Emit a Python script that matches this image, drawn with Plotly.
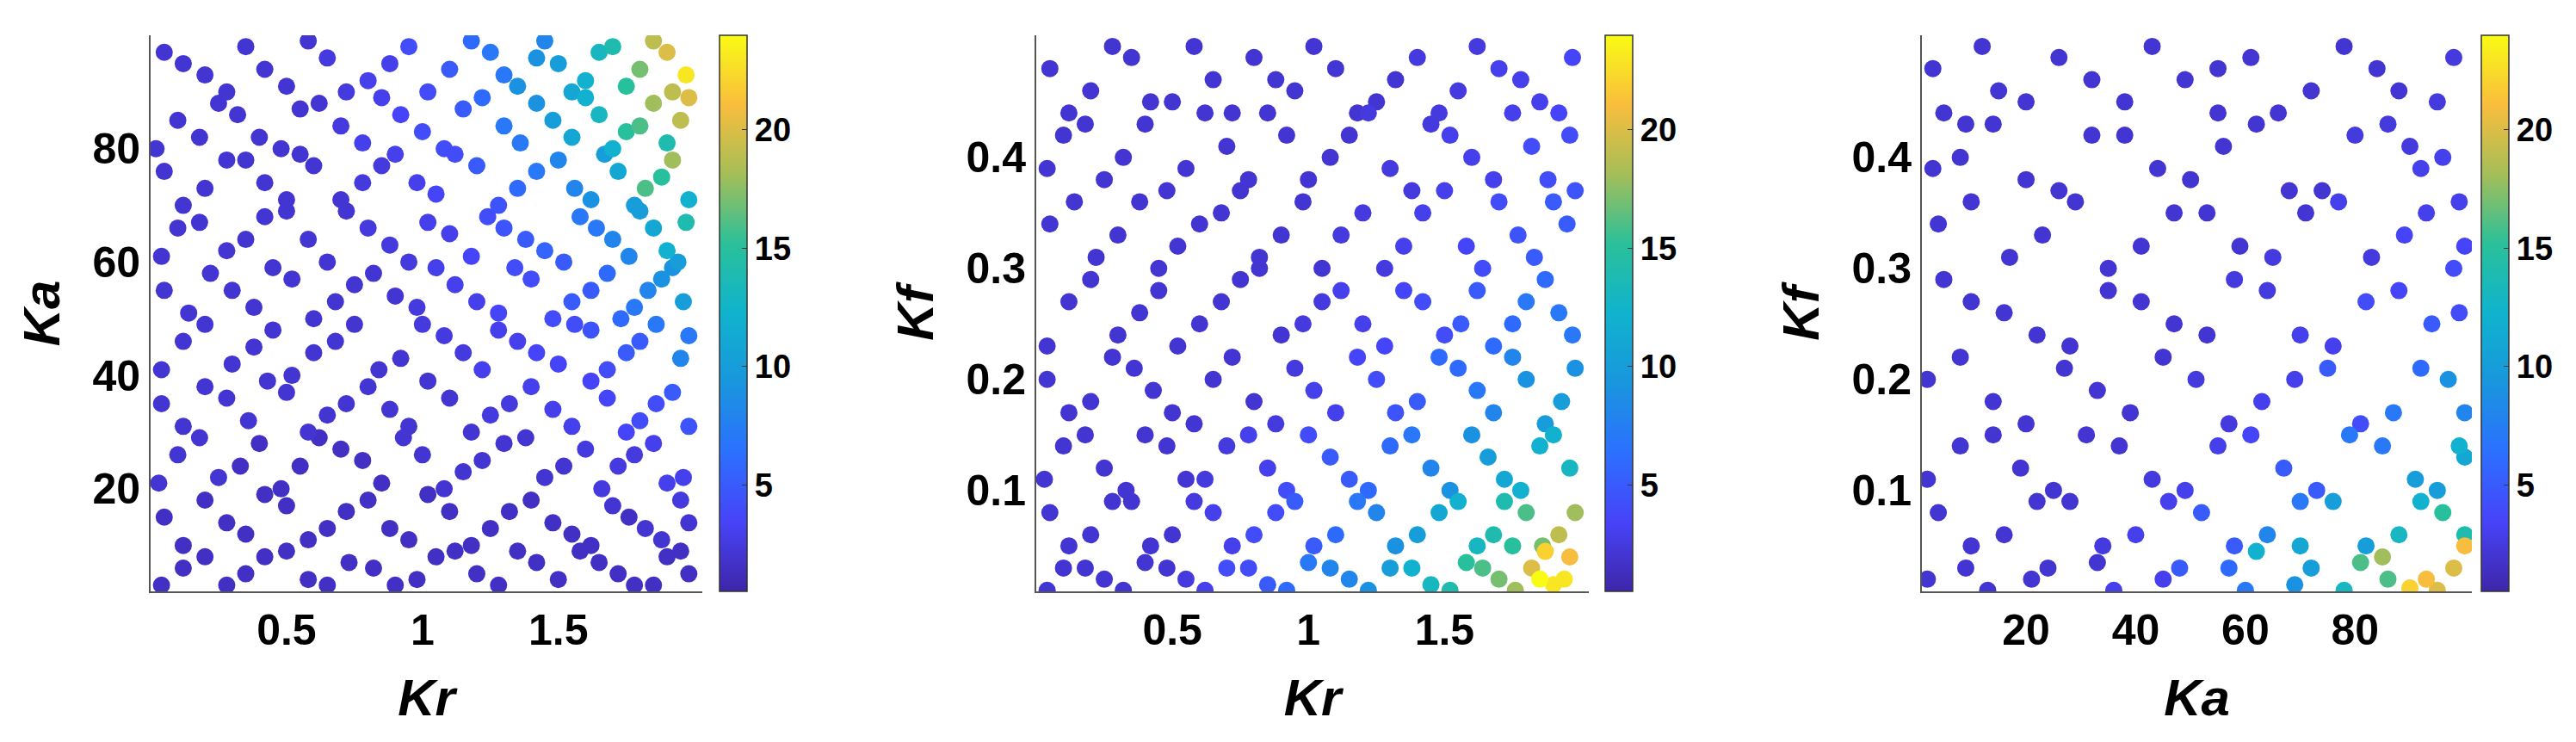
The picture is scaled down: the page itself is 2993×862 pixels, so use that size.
import plotly.graph_objects as go

# Panel 1: Kr vs Ka
kr1 = [0.05,0.2,0.35,0.5,0.65,0.8,0.95,1.1,1.25,1.35,1.5,1.6,1.7,1.8,1.9,1.97,1.45,1.85,
       0.1,0.25,0.4,0.55,0.7,0.85,1.0,1.15,1.3,1.42,1.55,1.65,1.75,1.85,1.95,1.9,
       0.05,0.2,0.35,0.5,0.6,0.78,0.9,1.05,1.2,1.35,1.5,1.62,1.72,1.82,1.92,1.98,
       0.1,0.28,0.42,0.58,0.72,0.88,1.02,1.18,1.3,1.45,1.58,1.7,1.8,1.9,1.97,
       0.05,0.22,0.38,0.52,0.68,0.82,0.98,1.12,1.28,1.4,1.55,1.68,1.78,1.88,1.96,
       0.12,0.3,0.45,0.6,0.75,0.92,1.08,1.22,1.35,1.5,1.62,1.75,1.86,1.95,
       0.04,0.2,0.36,0.5,0.65,0.8,0.95,1.1,1.25,1.4,1.55,1.68,1.8,1.92,
       0.1,0.25,0.4,0.55,0.7,0.85,1.0,1.15,1.3,1.45,1.6,1.72,1.85,1.96,
       0.05,0.2,0.35,0.5,0.65,0.8,0.95,1.1,1.25,1.4,1.55,1.7,1.82,1.95,
       0.12,0.28,0.42,0.58,0.73,0.9,1.05,1.2,1.35,1.5,1.65,1.78,1.9,1.98]
ka1 = [97,93,98,91,96,92,98,94,97,91,95,92,98,94,97,93,99,99,
       85,88,82,87,84,89,83,87,84,88,82,86,83,88,85,81,
       76,73,78,71,77,74,79,72,77,73,78,71,76,73,78,71,
       66,62,68,64,69,63,67,61,66,62,68,64,69,62,67,
       55,58,52,57,53,58,52,56,51,57,53,58,52,57,53,
       46,42,48,44,49,43,47,41,46,42,48,44,49,43,
       35,38,32,37,33,38,31,36,33,38,31,36,32,37,
       26,22,28,24,27,21,26,23,28,22,27,24,28,22,
       15,18,12,17,13,18,11,16,13,18,12,17,13,18,
       6,3,8,4,7,3,8,5,9,4,7,3,8,5]
z1 = [2,2,2,2,2.5,3,4,5,7,9,10,12,14,17,20,23,8,19,
      2,2,2,2,2.5,3,4,5,7,9,11,13,15,18,19,14,
      2,2,2,2,2,2.5,3,3.5,5,6,8,9,11,16,18,12,
      2,2,2,2,2,2.5,3,3.5,4.5,5.5,7,8,10,12,14,
      2,2,2,2,2,2,2.5,3,3.5,4,5,6,7,9,10,
      2,2,2,2,2,2,2.5,3,3,3.5,4.5,5,7,8,
      2,2,2,2,2,2,2,2,2.5,3,3,3.5,4,5,
      2,2,1.5,1.5,1.5,1.5,2,2,2,2,2.5,2.5,3,3,
      1.5,1.5,1.5,1.5,1.5,1.5,1.5,1.5,1.5,1.5,1.5,2,2,2.5,
      1.5,1.5,1.5,1.5,1.5,1.5,1.5,1.5,1.5,1.5,1.5,1.5,1.5,1.5]
kr1b = [0.12,0.28,0.42,0.58,0.72,0.88,1.02,1.18,1.3,1.42,1.55,1.65,1.75,1.92,
        0.02,0.18,0.32,0.48,0.62,0.78,0.92,1.08,1.22,1.36,1.48,1.6,1.7,1.8,1.98,
        0.12,0.28,0.42,0.55,0.7,0.85,0.98,1.12,1.28,1.42,1.56,1.67,1.78,1.88,
        0.04,0.18,0.35,0.5,0.65,0.8,0.95,1.1,1.24,1.38,1.52,1.64,1.76,1.85,1.94,
        0.14,0.3,0.45,0.6,0.75,0.9,1.05,1.2,1.34,1.48,1.62,1.73,1.83,1.92,
        0.04,0.2,0.38,0.52,0.68,0.84,1.0,1.15,1.28,1.42,1.56,1.68,1.8,1.98,
        0.12,0.28,0.43,0.58,0.72,0.88,1.02,1.18,1.32,1.48,1.62,1.75,1.86,1.98,
        0.03,0.18,0.33,0.48,0.62,0.78,0.93,1.08,1.22,1.38,1.52,1.66,1.78,1.9,
        0.12,0.28,0.42,0.58,0.72,0.88,1.02,1.18,1.32,1.48,1.62,1.76,1.88,1.98,
        0.04,0.2,0.35,0.5,0.65,0.82,0.98,1.12,1.28,1.42,1.58,1.72,1.85,1.95]
ka1b = [95,90,94,99,90,95,90,99,93,96,90,97,91,90,
        80,82,86,80,88,81,86,80,89,81,85,89,80,84,89,
        70,78,74,79,71,77,74,79,70,76,73,79,70,75,
        61,67,64,69,60,66,60,65,68,64,60,66,61,66,60,
        51,55,59,50,56,54,59,53,59,50,55,50,55,59,
        41,49,45,40,46,41,49,44,48,44,49,41,46,47,
        31,36,39,30,35,34,39,30,35,34,39,30,35,31,
        21,29,24,20,29,25,29,20,25,29,24,20,26,21,
        10,14,19,11,16,13,19,10,16,14,10,15,11,14,
        3,8,5,9,3,6,4,9,3,7,9,5,3,9]
z1b = [2,2,2,2,2.5,3,4,6,7,9,11,13,15,19,
       2,2,2,2,2,3,3.5,4,6,7,10,12,12,16,20,
       2,2,2,2,2,2.5,3,4,4.5,7,8,10,10,15,
       2,2,2,2,2,2.5,2.5,3,4,5,5,7,8,11,10,
       2,2,2,2,2,2,3,3,4,4,5,6,8,9,
       2,2,2,2,2,2,2.5,2.5,3,3.5,4,4,5,7,
       2,2,2,2,2,2,2,2,2.5,3,3.5,3.5,4,4.5,
       2,2,1.5,1.5,1.5,1.5,2,2,2,2,2,2.5,2.5,3,
       1.5,1.5,1.5,1.5,1.5,1.5,1.5,1.5,1.5,1.5,1.5,1.5,2,2,
       1.5,1.5,1.5,1.5,1.5,1.5,1.5,1.5,1.5,1.5,1.5,1.5,1.5,1.5]

# Panel 2: Kr vs Kf
kr2 = [0.05,0.2,0.35,0.5,0.65,0.8,0.95,1.1,1.25,1.4,1.55,1.7,1.85,1.97,
       0.1,0.25,0.4,0.55,0.7,0.85,1.0,1.15,1.3,1.45,1.6,1.75,1.88,1.96,
       0.05,0.22,0.38,0.52,0.68,0.82,0.98,1.12,1.28,1.42,1.58,1.7,1.83,1.95,
       0.12,0.3,0.45,0.6,0.75,0.9,1.05,1.2,1.35,1.5,1.62,1.75,1.87,1.97,
       0.04,0.2,0.36,0.5,0.65,0.8,0.95,1.1,1.25,1.4,1.55,1.68,1.8,1.93,
       0.1,0.25,0.4,0.55,0.7,0.85,1.0,1.15,1.3,1.45,1.6,1.72,1.85,1.96,
       0.05,0.2,0.35,0.5,0.65,0.8,0.95,1.1,1.25,1.4,1.55,1.68,1.8,1.92,1.75,
       0.1,0.25,0.4,0.55,0.7,0.85,1.0,1.15,1.3,1.45,1.58,1.7,1.82,1.9,1.96,1.87]
kf2 = [.48,.46,.49,.45,.47,.49,.46,.48,.45,.49,.46,.48,.45,.49,
       .42,.38,.43,.39,.41,.44,.38,.42,.39,.43,.40,.44,.38,.42,
       .34,.31,.36,.32,.35,.31,.36,.33,.30,.35,.32,.36,.31,.34,
       .27,.24,.28,.25,.29,.24,.27,.25,.28,.24,.28,.25,.29,.24,
       .20,.18,.21,.17,.20,.18,.21,.17,.20,.18,.21,.17,.20,.18,
       .14,.12,.15,.11,.14,.12,.15,.11,.14,.12,.15,.11,.14,.12,
       .08,.06,.09,.06,.08,.06,.09,.06,.08,.06,.09,.06,.08,.06,.05,
       .03,.02,.035,.02,.03,.015,.035,.02,.03,.015,.035,.02,.03,.015,.04,.045]
z2 = [2,2,2,2,2,2,2,2,2,2.5,2.5,3,3,3.5,
      2,2,2,2,2,2,2,2,2.5,2.5,3,3,4,4,
      2,2,2,2,2,2,2,2.5,2.5,3,3.5,4,5,5,
      2,2,2,2,2,2,2.5,3,3.5,4,5,6,6,7,
      2,2,2,2,2,2,2.5,3,4,5,6,8,9,10,
      2,2,2,2,2.5,3,4,5,6,8,9,11,12,13,
      2,2,2,2,3,4,5,6,8,10,12,14,16,19,15,
      2,2,2,2.5,4,5,7,8,10,13,15,17,20,23,21,22]
kr2b = [0.12,0.28,0.42,0.58,0.72,0.88,1.02,1.18,1.32,1.48,1.62,1.78,1.92,
        0.04,0.18,0.32,0.48,0.62,0.78,0.92,1.08,1.22,1.38,1.52,1.68,1.82,1.98,
        0.14,0.3,0.45,0.6,0.75,0.9,1.05,1.2,1.35,1.5,1.64,1.77,1.9,
        0.04,0.2,0.38,0.52,0.68,0.82,0.98,1.12,1.28,1.42,1.56,1.68,1.8,1.92,
        0.12,0.28,0.43,0.58,0.72,0.88,1.02,1.18,1.32,1.48,1.62,1.75,1.87,1.98,
        0.03,0.18,0.33,0.48,0.62,0.78,0.92,1.08,1.22,1.38,1.52,1.66,1.78,1.9,
        0.12,0.28,0.42,0.58,0.72,0.88,1.02,1.18,1.32,1.48,1.62,1.72,1.86,1.98,
        0.04,0.18,0.32,0.48,0.62,0.78,0.92,1.08,1.22,1.38,1.52,1.64,1.76,1.85,1.94]
kf2b = [.44,.50,.45,.50,.44,.47,.50,.44,.47,.44,.50,.47,.44,
        .39,.43,.40,.37,.44,.38,.42,.40,.44,.37,.42,.38,.41,.37,
        .36,.33,.30,.34,.37,.33,.30,.35,.32,.37,.30,.33,.36,
        .23,.29,.26,.23,.27,.30,.25,.28,.23,.27,.25,.23,.27,.26,
        .17,.22,.19,.16,.22,.16,.19,.22,.17,.22,.19,.22,.16,.21,
        .11,.15,.10,.14,.11,.15,.10,.13,.10,.15,.10,.13,.10,.15,
        .05,.09,.05,.09,.05,.08,.05,.09,.05,.08,.05,.09,.05,.08,
        .01,.03,.01,.03,.01,.03,.01,.03,.01,.03,.01,.03,.01,.02,.02]
z2b = [2,2,2,2,2,2,2,2,2,2.5,2.5,3,3.5,
       2,2,2,2,2,2,2,2,2.5,2.5,3,3,4,4.5,
       2,2,2,2,2,2,2,2.5,3,3,4,4.5,5,
       2,2,2,2,2,2,2.5,3,3.5,4,5,6,7,7,
       2,2,2,2,2,2.5,3,3.5,4.5,6,7,8,10,9,
       2,2,2,2,2.5,3,4,5,6,7,9,10,12,12,
       2,2,2,2.5,3,4,5,7,9,11,13,14,17,18,
       2,2,2,2,3,4,6,8,9,12,14,16,18,24,23]

# Panel 3: Ka vs Kf
ka3 = [3,15,26,38,49,61,72,84,95,9,55,90,
       8,20,32,44,56,68,80,92,99,
       4,17,29,41,53,65,77,89,98,
       10,22,35,47,58,70,82,94,
       2,14,27,39,51,63,75,87,97,
       8,19,31,43,55,67,79,91,99,
       4,16,28,40,52,64,76,88,96,70,
       9,21,33,45,57,69,81,93,98,85,62,90]
kf3 = [.48,.46,.49,.45,.47,.49,.46,.48,.45,.43,.44,.41,
       .40,.38,.42,.39,.41,.37,.42,.39,.36,
       .34,.31,.36,.32,.35,.31,.36,.33,.30,
       .27,.24,.28,.25,.29,.24,.27,.25,
       .20,.18,.21,.17,.20,.18,.21,.17,.20,
       .14,.12,.15,.11,.14,.12,.15,.11,.14,
       .08,.06,.09,.06,.08,.06,.09,.06,.08,.05,
       .03,.02,.035,.02,.03,.015,.035,.02,.03,.04,.045,.012]
z3 = [2,2,2,2,2,2,2,2,2.5,2,2,2.5,
      2,2,2,2,2,2,2.5,3,3,
      2,2,2,2,2,2.5,3,3.5,4,
      2,2,2,2,2.5,3,4,5,
      2,2,2,2,2.5,3,5,7,9,
      2,2,2,2.5,3,5,7,10,12,
      2,2,2,3,5,8,10,13,15,11,
      2,2,2,3,6,9,16,21,20,18,12,22]
ka3b = [5,12,20,32,43,55,66,78,88,98,
        3,14,26,38,50,62,74,86,96,
        10,23,35,47,59,71,83,93,100,
        5,16,28,41,53,64,76,88,99,
        8,20,33,45,57,69,81,92,100,
        2,14,25,37,49,61,73,85,95,100,
        10,22,34,46,58,70,82,92,100,
        2,13,24,36,48,60,72,78,86,95,100]
kf3b = [.44,.50,.45,.47,.50,.48,.44,.50,.46,.49,
        .39,.43,.37,.42,.38,.43,.37,.43,.40,
        .36,.33,.30,.35,.32,.35,.31,.35,.32,
        .29,.26,.23,.27,.24,.28,.23,.28,.26,
        .22,.16,.19,.22,.16,.20,.16,.21,.17,
        .11,.15,.10,.14,.10,.15,.10,.14,.10,.13,
        .05,.09,.05,.09,.05,.09,.05,.09,.06,
        .02,.01,.03,.01,.03,.01,.03,.01,.02,.01,.05]
z3b = [2,2,2,2,2,2,2,2,2,2.5,
       2,2,2,2,2,2,2,2.5,3,
       2,2,2,2,2,2,2.5,3,3.5,
       2,2,2,2,2,2.5,3,3.5,4,
       2,2,2,2,2.5,3,4,6,8,
       2,2,2,2,3,3.5,5,7,10,11,
       2,2,2.5,3,5,7,10,12,14,
       2,2,2,3,5,7,10,13,16,20,21]

cbar_ticks = [5, 10, 15, 20]

parula = [[0.0, "#3e26a8"], [0.125, "#4743f8"], [0.25, "#2c70ff"], [0.375, "#1996dd"],
          [0.5, "#10b3ce"], [0.625, "#2ac09a"], [0.75, "#a5be58"], [0.875, "#f9bd3d"],
          [1.0, "#f9fb15"]]

doms = [[0.0558, 0.270], [0.3996, 0.6141], [0.7434, 0.9569]]
cbx = [0.2765, 0.6205, 0.9605]
ydom = [0.2123, 0.9617]
font = "Liberation Sans, Arial, sans-serif"

fig = go.Figure()
data = [(kr1 + kr1b, ka1 + ka1b, z1 + z1b),
        (kr2 + kr2b, kf2 + kf2b, z2 + z2b),
        (ka3 + ka3b, kf3 + kf3b, z3 + z3b)]
for i, (x, y, z) in enumerate(data):
    sfx = "" if i == 0 else str(i + 1)
    order = sorted(range(len(z)), key=lambda k: z[k])
    fig.add_trace(go.Scatter(
        x=[x[k] for k in order], y=[y[k] for k in order], mode="markers",
        xaxis="x" + sfx, yaxis="y" + sfx,
        marker=dict(size=20, color=[z[k] for k in order], cmin=0.5, cmax=24, colorscale=parula,
                    colorbar=dict(x=cbx[i], xanchor="left", y=ydom[0], yanchor="bottom",
                                  len=ydom[1] - ydom[0], thickness=32, outlinewidth=1.5,
                                  outlinecolor="#333", tickvals=cbar_ticks, ticks="inside",
                                  ticklen=6, tickcolor="#333", xpad=0, ypad=0,
                                  tickfont=dict(size=38, family=font, color="black", weight="bold"))),
        showlegend=False))

xt = [("Kr", [0, 2.03], [0.5, 1, 1.5], ["0.5", "1", "1.5"]),
      ("Kr", [0, 2.03], [0.5, 1, 1.5], ["0.5", "1", "1.5"]),
      ("Ka", [1, 101.3], [20, 40, 60, 80], ["20", "40", "60", "80"])]
yt = [("Ka", [1.9, 100], [20, 40, 60, 80], ["20", "40", "60", "80"]),
      ("Kf", [0.009, 0.51], [0.1, 0.2, 0.3, 0.4], ["0.1", "0.2", "0.3", "0.4"]),
      ("Kf", [0.009, 0.51], [0.1, 0.2, 0.3, 0.4], ["0.1", "0.2", "0.3", "0.4"])]

lay = dict(width=2993, height=862, margin=dict(l=0, r=0, t=0, b=0),
           plot_bgcolor="white", paper_bgcolor="white")
for i in range(3):
    sfx = "" if i == 0 else str(i + 1)
    lay["xaxis" + sfx] = dict(domain=doms[i], anchor="y" + sfx, range=xt[i][1],
                              tickvals=xt[i][2], ticktext=xt[i][3], showgrid=False, zeroline=False,
                              showline=True, linecolor="#555", linewidth=2, ticks="",
                              tickfont=dict(size=50, family=font, color="black", weight="bold"),
                              title=dict(text="<b><i>%s</i></b>" % xt[i][0], standoff=30,
                                         font=dict(size=60, family=font, color="black")))
    lay["yaxis" + sfx] = dict(domain=ydom, anchor="x" + sfx, range=yt[i][1],
                              tickvals=yt[i][2], ticktext=yt[i][3], showgrid=False, zeroline=False,
                              showline=True, linecolor="#555", linewidth=2, ticks="",
                              tickfont=dict(size=50, family=font, color="black", weight="bold"),
                              title=dict(text="<b><i>%s</i></b>" % yt[i][0], standoff=18,
                                         font=dict(size=60, family=font, color="black")))
fig.update_layout(**lay)
fig.write_html("out.html")
